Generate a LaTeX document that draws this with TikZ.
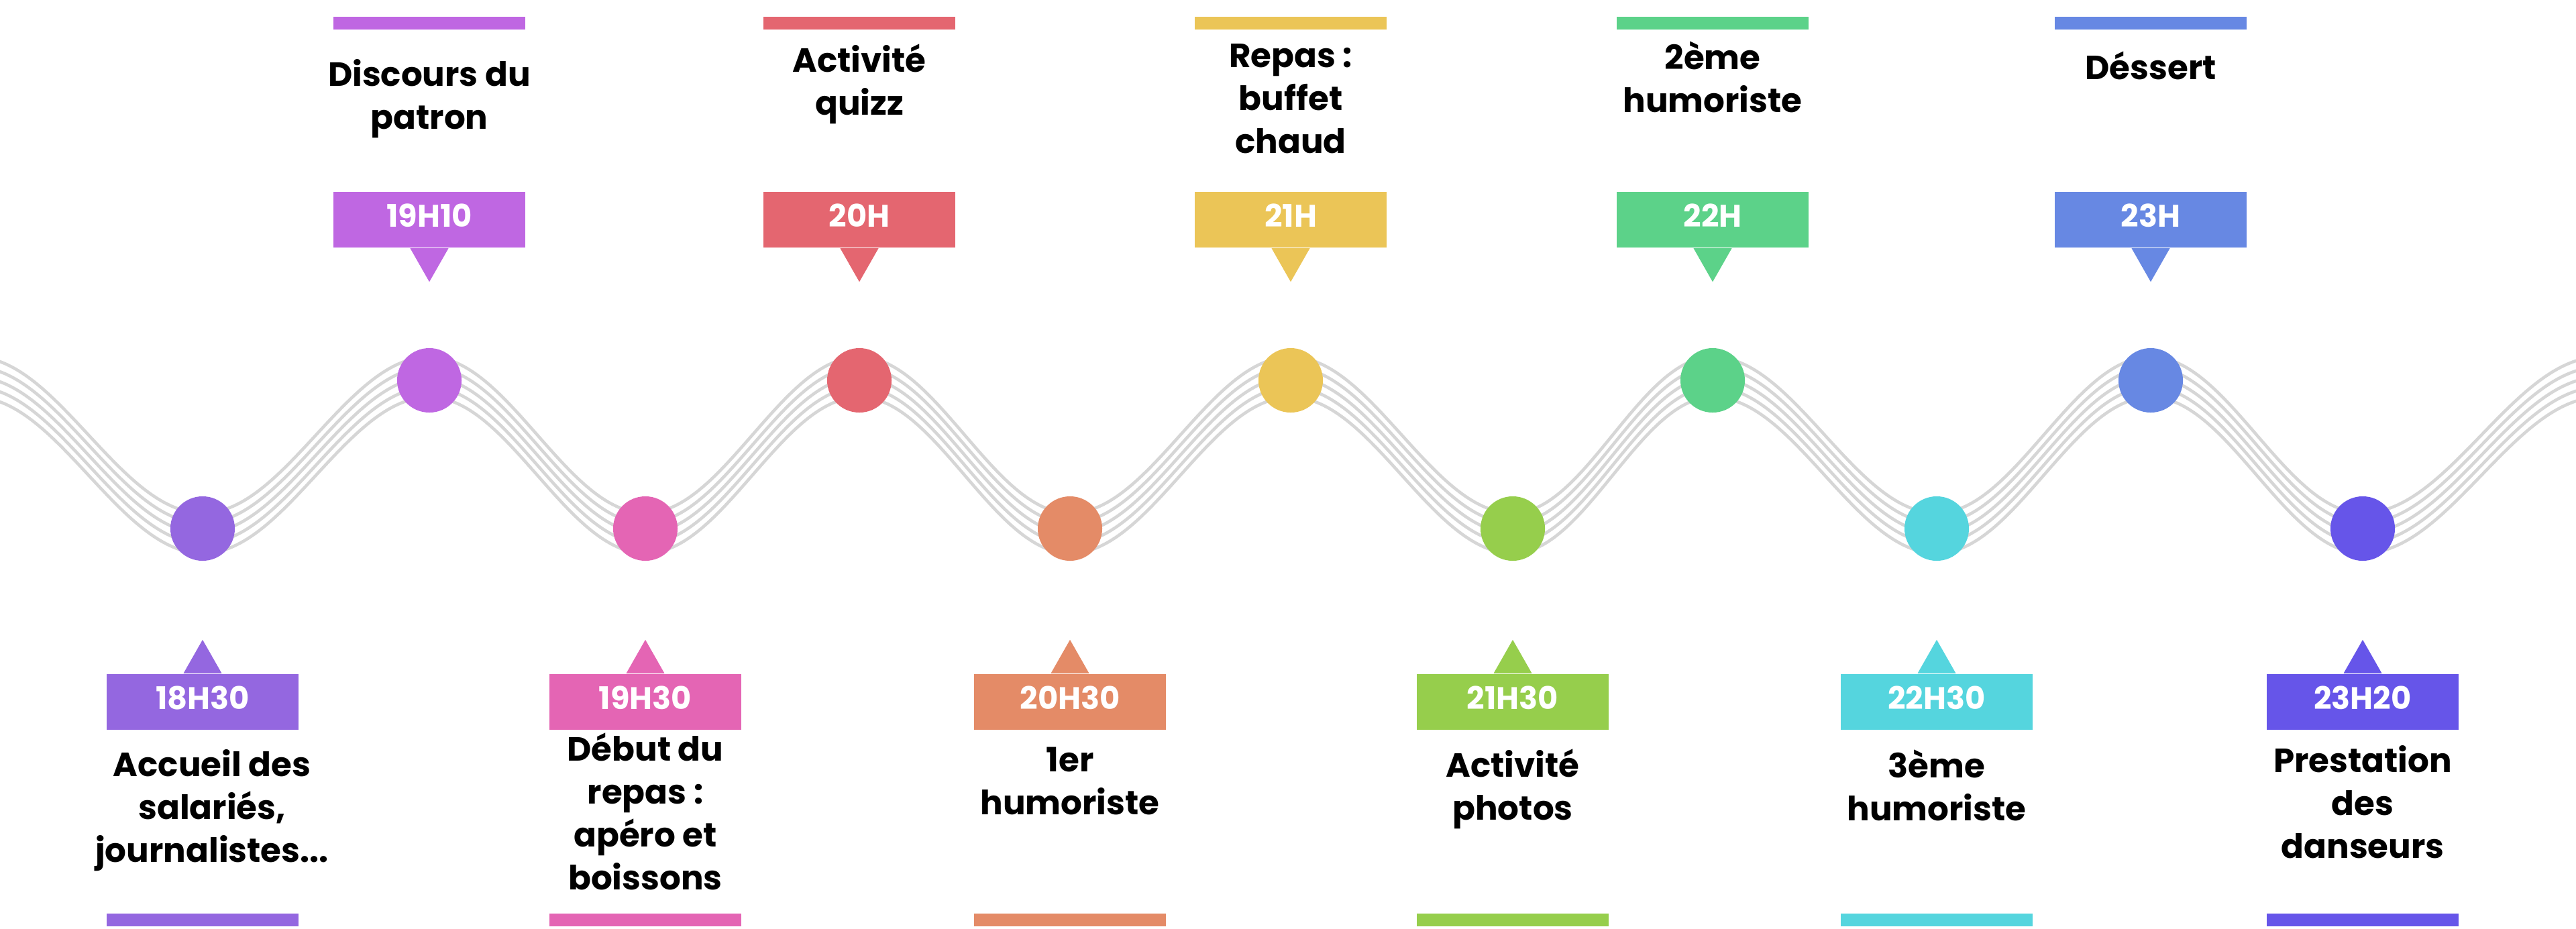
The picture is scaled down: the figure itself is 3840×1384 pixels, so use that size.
\documentclass[tikz,border=0pt]{standalone}
\usepackage{fontspec}
\setmainfont{Poppins}
\usetikzlibrary{positioning}
\definecolor{c1830}{HTML}{9467E0}
\definecolor{c1910}{HTML}{BF67E2}
\definecolor{c1930}{HTML}{E465B4}
\definecolor{c2000}{HTML}{E46670}
\definecolor{c2030}{HTML}{E48B67}
\definecolor{c2100}{HTML}{EBC557}
\definecolor{c2130}{HTML}{96CE4C}
\definecolor{c2200}{HTML}{5CD289}
\definecolor{c2230}{HTML}{55D5DE}
\definecolor{c2300}{HTML}{6788E3}
\definecolor{c2320}{HTML}{6655E9}
\definecolor{wavegray}{HTML}{D6D6D6}
\tikzset{
        dot/.style={circle, fill=#1, minimum size=0.96cm, inner sep=0pt},
        timebox/.style={
          rectangle, fill=#1, minimum width=2.86cm, minimum height=0.83cm, inner sep=0pt,
          text height=0.32cm, text depth=0.1cm, % lift the time a little above the middle
          text=white, font=\fontsize{13.2}{15}\selectfont\bfseries
          },
        event/.style={align=center, inner sep=0pt, font=\fontsize{14.2}{18.2}\selectfont\bfseries},
        bar/.style={rectangle, fill=#1, minimum width=2.86cm, minimum height=0.19cm, inner sep=0pt},
        wave/.style={draw=wavegray, line width=1.3pt},
}
\begin{document}
\begin{tikzpicture}[x=0.01cm, y=-0.01cm]
      \useasboundingbox (0,0) rectangle (3840,1384);
      % WAVE (five parallel lines)
      \begin{scope}
        \clip (0,0) rectangle (3840,1384);
        \draw[wave, yshift=0.3cm] (-38,562) cos (132,678.5) sin (302,795) cos (471,678.5) sin (640,562) cos (801,678.5) sin (962,795) cos (1121.5,678.5) sin (1281,562) cos (1438,678.5) sin (1595,795) cos (1759.5,678.5) sin (1924,562) cos (2089.5,678.5) sin (2255,795) cos (2404,678.5) sin (2553,562) cos (2720,678.5) sin (2887,795) cos (3046.5,678.5) sin (3206,562) cos (3364,678.5) sin (3522,795) cos (3699,678.5) sin (3876,562);
        \draw[wave, yshift=0.15cm] (-38,562) cos (132,678.5) sin (302,795) cos (471,678.5) sin (640,562) cos (801,678.5) sin (962,795) cos (1121.5,678.5) sin (1281,562) cos (1438,678.5) sin (1595,795) cos (1759.5,678.5) sin (1924,562) cos (2089.5,678.5) sin (2255,795) cos (2404,678.5) sin (2553,562) cos (2720,678.5) sin (2887,795) cos (3046.5,678.5) sin (3206,562) cos (3364,678.5) sin (3522,795) cos (3699,678.5) sin (3876,562);
        \draw[wave] (-38,562) cos (132,678.5) sin (302,795) cos (471,678.5) sin (640,562) cos (801,678.5) sin (962,795) cos (1121.5,678.5) sin (1281,562) cos (1438,678.5) sin (1595,795) cos (1759.5,678.5) sin (1924,562) cos (2089.5,678.5) sin (2255,795) cos (2404,678.5) sin (2553,562) cos (2720,678.5) sin (2887,795) cos (3046.5,678.5) sin (3206,562) cos (3364,678.5) sin (3522,795) cos (3699,678.5) sin (3876,562);
        \draw[wave, yshift=-0.15cm] (-38,562) cos (132,678.5) sin (302,795) cos (471,678.5) sin (640,562) cos (801,678.5) sin (962,795) cos (1121.5,678.5) sin (1281,562) cos (1438,678.5) sin (1595,795) cos (1759.5,678.5) sin (1924,562) cos (2089.5,678.5) sin (2255,795) cos (2404,678.5) sin (2553,562) cos (2720,678.5) sin (2887,795) cos (3046.5,678.5) sin (3206,562) cos (3364,678.5) sin (3522,795) cos (3699,678.5) sin (3876,562);
        \draw[wave, yshift=-0.3cm] (-38,562) cos (132,678.5) sin (302,795) cos (471,678.5) sin (640,562) cos (801,678.5) sin (962,795) cos (1121.5,678.5) sin (1281,562) cos (1438,678.5) sin (1595,795) cos (1759.5,678.5) sin (1924,562) cos (2089.5,678.5) sin (2255,795) cos (2404,678.5) sin (2553,562) cos (2720,678.5) sin (2887,795) cos (3046.5,678.5) sin (3206,562) cos (3364,678.5) sin (3522,795) cos (3699,678.5) sin (3876,562);
      \end{scope}

      % 18H30
      \node[dot=c1830] (d1830) at (302,788) {};
      \node[timebox=c1830, below=1.67cm of d1830] (t1830) {18H30};
      \fill[c1830] ([xshift=-0.285cm]t1830.north) -- ([xshift=0.285cm]t1830.north) -- ([yshift=0.5cm]t1830.north) -- cycle;
      \node[event] (e1830) at (316,1208) {Accueil des\\salariés,\\journalistes...};
      \node[bar=c1830] (b1830) at (302,1371.5) {};

      % 19H10
      \node[dot=c1910] (d1910) at (640,567) {};
      \node[timebox=c1910, above=1.48cm of d1910] (t1910) {19H10};
      \fill[c1910] ([xshift=-0.285cm]t1910.south) -- ([xshift=0.285cm]t1910.south) -- ([yshift=-0.5cm]t1910.south) -- cycle;
      \node[event] (e1910) at (640,147) {Discours du\\patron};
      \node[bar=c1910] (b1910) at (640,34.5) {};

      % 19H30
      \node[dot=c1930] (d1930) at (962,788) {};
      \node[timebox=c1930, below=1.67cm of d1930] (t1930) {19H30};
      \fill[c1930] ([xshift=-0.285cm]t1930.north) -- ([xshift=0.285cm]t1930.north) -- ([yshift=0.5cm]t1930.north) -- cycle;
      \node[event] (e1930) at (962,1209.5) {Début du\\repas :\\apéro et\\boissons};
      \node[bar=c1930] (b1930) at (962,1371.5) {};

      % 20H
      \node[dot=c2000] (d2000) at (1281,567) {};
      \node[timebox=c2000, above=1.48cm of d2000] (t2000) {20H};
      \fill[c2000] ([xshift=-0.285cm]t2000.south) -- ([xshift=0.285cm]t2000.south) -- ([yshift=-0.5cm]t2000.south) -- cycle;
      \node[event] (e2000) at (1281,125.5) {Activité\\quizz};
      \node[bar=c2000] (b2000) at (1281,34.5) {};

      % 20H30
      \node[dot=c2030] (d2030) at (1595,788) {};
      \node[timebox=c2030, below=1.67cm of d2030] (t2030) {20H30};
      \fill[c2030] ([xshift=-0.285cm]t2030.north) -- ([xshift=0.285cm]t2030.north) -- ([yshift=0.5cm]t2030.north) -- cycle;
      \node[event] (e2030) at (1595,1164) {1er\\humoriste};
      \node[bar=c2030] (b2030) at (1595,1371.5) {};

      % 21H
      \node[dot=c2100] (d2100) at (1924,567) {};
      \node[timebox=c2100, above=1.48cm of d2100] (t2100) {21H};
      \fill[c2100] ([xshift=-0.285cm]t2100.south) -- ([xshift=0.285cm]t2100.south) -- ([yshift=-0.5cm]t2100.south) -- cycle;
      \node[event] (e2100) at (1924,147.5) {Repas :\\buffet\\chaud};
      \node[bar=c2100] (b2100) at (1924,34.5) {};

      % 21H30
      \node[dot=c2130] (d2130) at (2255,788) {};
      \node[timebox=c2130, below=1.67cm of d2130] (t2130) {21H30};
      \fill[c2130] ([xshift=-0.285cm]t2130.north) -- ([xshift=0.285cm]t2130.north) -- ([yshift=0.5cm]t2130.north) -- cycle;
      \node[event] (e2130) at (2255,1176) {Activité\\photos};
      \node[bar=c2130] (b2130) at (2255,1371.5) {};

      % 22H
      \node[dot=c2200] (d2200) at (2553,567) {};
      \node[timebox=c2200, above=1.48cm of d2200] (t2200) {22H};
      \fill[c2200] ([xshift=-0.285cm]t2200.south) -- ([xshift=0.285cm]t2200.south) -- ([yshift=-0.5cm]t2200.south) -- cycle;
      \node[event] (e2200) at (2553,115) {2ème\\humoriste};
      \node[bar=c2200] (b2200) at (2553,34.5) {};

      % 22H30
      \node[dot=c2230] (d2230) at (2887,788) {};
      \node[timebox=c2230, below=1.67cm of d2230] (t2230) {22H30};
      \fill[c2230] ([xshift=-0.285cm]t2230.north) -- ([xshift=0.285cm]t2230.north) -- ([yshift=0.5cm]t2230.north) -- cycle;
      \node[event] (e2230) at (2887,1171) {3ème\\humoriste};
      \node[bar=c2230] (b2230) at (2887,1371.5) {};

      % 23H
      \node[dot=c2300] (d2300) at (3206,567) {};
      \node[timebox=c2300, above=1.48cm of d2300] (t2300) {23H};
      \fill[c2300] ([xshift=-0.285cm]t2300.south) -- ([xshift=0.285cm]t2300.south) -- ([yshift=-0.5cm]t2300.south) -- cycle;
      \node[event] (e2300) at (3206,97.5) {Déssert};
      \node[bar=c2300] (b2300) at (3206,34.5) {};

      % 23H20
      \node[dot=c2320] (d2320) at (3522,788) {};
      \node[timebox=c2320, below=1.67cm of d2320] (t2320) {23H20};
      \fill[c2320] ([xshift=-0.285cm]t2320.north) -- ([xshift=0.285cm]t2320.north) -- ([yshift=0.5cm]t2320.north) -- cycle;
      \node[event] (e2320) at (3522,1196) {Prestation\\des\\danseurs};
      \node[bar=c2320] (b2320) at (3522,1371.5) {};
\end{tikzpicture}
\end{document}
